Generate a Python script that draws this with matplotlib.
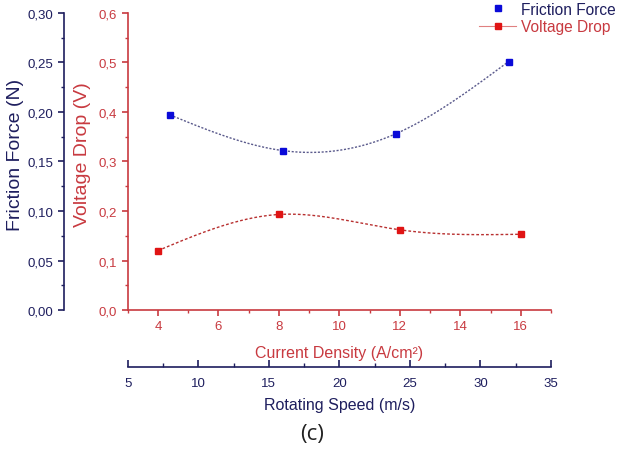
import numpy as np
import matplotlib
matplotlib.use('Agg')
import matplotlib.pyplot as plt
from matplotlib.ticker import MultipleLocator, FuncFormatter
from matplotlib.lines import Line2D

plt.rcParams['font.family'] = ['Liberation Sans', 'DejaVu Sans']

# measured data
current_density = [4, 8, 12, 16]          # A/cm2
voltage_drop = [0.12, 0.193, 0.162, 0.153]  # V
rotating_speed = [8, 16, 24, 32]          # m/s
friction_force = [0.197, 0.161, 0.178, 0.251]  # N

NAVY = '#1e1e5e'
RED = '#c83a40'
BLUE_PT = '#0a0ad8'
RED_PT = '#e01414'


def comma_fmt(decimals):
    return FuncFormatter(lambda v, p: f"{v:.{decimals}f}".replace('.', ','))


def spline(x, y, n=200):
    # natural cubic spline through the points, used as the guide line
    x = np.asarray(x, float)
    y = np.asarray(y, float)
    h = np.diff(x)
    k = len(x)
    A = np.zeros((k, k))
    b = np.zeros(k)
    A[0, 0] = A[-1, -1] = 1
    for i in range(1, k - 1):
        A[i, i - 1] = h[i - 1]
        A[i, i] = 2 * (h[i - 1] + h[i])
        A[i, i + 1] = h[i]
        b[i] = 6 * ((y[i + 1] - y[i]) / h[i] - (y[i] - y[i - 1]) / h[i - 1])
    M = np.linalg.solve(A, b)
    xs = np.linspace(x[0], x[-1], n)
    idx = np.clip(np.searchsorted(x, xs) - 1, 0, k - 2)
    hi = h[idx]
    t1 = x[idx + 1] - xs
    t0 = xs - x[idx]
    ys = (M[idx] * t1 ** 3 + M[idx + 1] * t0 ** 3) / (6 * hi) \
        + (y[idx] / hi - M[idx] * hi / 6) * t1 \
        + (y[idx + 1] / hi - M[idx + 1] * hi / 6) * t0
    return xs, ys


fig = plt.figure(figsize=(6.18, 4.52), dpi=100)
rect = [127.7 / 618, 141 / 452, 423.3 / 618, 297 / 452]

# friction force vs rotating speed (navy axes, offset outward)
ax_f = fig.add_axes(rect)
ax_f.patch.set_visible(False)
ax_f.set_xlim(5, 35)
ax_f.set_ylim(0, 0.30)
for s in ['top', 'right']:
    ax_f.spines[s].set_visible(False)
ax_f.spines['left'].set_position(('outward', 46))
ax_f.spines['bottom'].set_position(('outward', 41))
for s in ['left', 'bottom']:
    ax_f.spines[s].set_color(NAVY)
    ax_f.spines[s].set_linewidth(1.2)
ax_f.xaxis.set_major_locator(MultipleLocator(5))
ax_f.xaxis.set_minor_locator(MultipleLocator(2.5))
ax_f.yaxis.set_major_locator(MultipleLocator(0.05))
ax_f.yaxis.set_minor_locator(MultipleLocator(0.025))
ax_f.yaxis.set_major_formatter(comma_fmt(2))
ax_f.tick_params(axis='x', which='both', direction='in', colors=NAVY,
                 labelsize=9.5, pad=7)
ax_f.tick_params(axis='x', which='major', length=5, width=1.2)
ax_f.tick_params(axis='x', which='minor', length=3, width=1)
ax_f.tick_params(axis='y', which='both', direction='out', colors=NAVY,
                 labelsize=9.5)
ax_f.tick_params(axis='y', which='major', length=4, width=1.2)
ax_f.tick_params(axis='y', which='minor', length=2.5, width=1)
ax_f.set_xlabel('Rotating Speed (m/s)', color=NAVY, fontsize=11.5, labelpad=6)
ax_f.set_ylabel('Friction Force (N)', color=NAVY, fontsize=14)
ax_f.yaxis.set_label_coords(-0.245, 0.525)

xs, ys = spline(rotating_speed, friction_force)
ax_f.plot(xs, ys, color='#5a5a8c', lw=1, ls=(0, (1.5, 1.2)))
ax_f.plot(rotating_speed, friction_force, ls='none', marker='s', ms=5,
          color=BLUE_PT, zorder=3)

# voltage drop vs current density (red axes)
ax_v = fig.add_axes(rect)
ax_v.patch.set_visible(False)
ax_v.set_xlim(3, 17)
ax_v.set_ylim(0, 0.6)
for s in ['top', 'right']:
    ax_v.spines[s].set_visible(False)
for s in ['left', 'bottom']:
    ax_v.spines[s].set_color(RED)
    ax_v.spines[s].set_linewidth(1.2)
ax_v.xaxis.set_major_locator(MultipleLocator(2))
ax_v.xaxis.set_minor_locator(MultipleLocator(1))
ax_v.yaxis.set_major_locator(MultipleLocator(0.1))
ax_v.yaxis.set_minor_locator(MultipleLocator(0.05))
ax_v.yaxis.set_major_formatter(comma_fmt(1))
ax_v.tick_params(axis='both', which='both', direction='out', colors=RED,
                 labelsize=9.5)
ax_v.tick_params(axis='both', which='major', length=4, width=1.2)
ax_v.tick_params(axis='both', which='minor', length=2.5, width=1)
ax_v.set_xlabel('Current Density (A/cm²)', color=RED, fontsize=11.5,
                labelpad=9)
ax_v.set_ylabel('Voltage Drop (V)', color=RED, fontsize=14)
ax_v.yaxis.set_label_coords(-0.087, 0.525)

xs, ys = spline(current_density, voltage_drop)
ax_v.plot(xs, ys, color='#b83030', lw=1, ls=(0, (2, 1.5)))
ax_v.plot(current_density, voltage_drop, ls='none', marker='s', ms=5,
          color=RED_PT, zorder=3)

handles = [
    Line2D([], [], ls='none', marker='s', ms=5, color=BLUE_PT),
    Line2D([], [], ls='-', lw=0.8, color='#e08080', marker='s', ms=5,
           markerfacecolor=RED_PT, markeredgecolor=RED_PT),
]
leg = fig.legend(handles, ['Friction Force', 'Voltage Drop'],
                 loc='upper left', bbox_to_anchor=(468 / 618, 1.018),
                 frameon=False, fontsize=11.2, handlelength=2.4,
                 handletextpad=0.33, labelspacing=0.15, borderpad=0.2)
for txt, c in zip(leg.get_texts(), [NAVY, RED]):
    txt.set_color(c)

fig.text(312 / 618, 1 - 435 / 452, '(c)', ha='center', va='center',
         fontsize=16, family='Open Sans', color='#222222')

fig.savefig('out.png', dpi=100)
